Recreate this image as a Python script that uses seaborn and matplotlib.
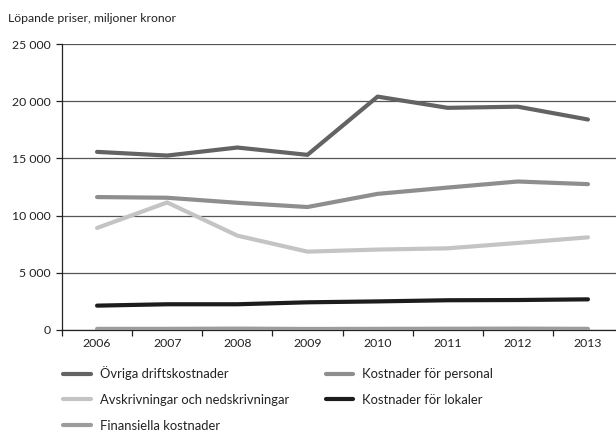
import matplotlib
matplotlib.use("Agg")
import matplotlib.pyplot as plt
import seaborn as sns
import pandas as pd
from matplotlib.ticker import FixedLocator, FuncFormatter
from matplotlib.lines import Line2D

years = [2006, 2007, 2008, 2009, 2010, 2011, 2012, 2013]
ovriga = [15570, 15250, 15950, 15310, 20400, 19420, 19520, 18400]
personal = [11620, 11560, 11120, 10750, 11900, 12450, 12980, 12750]
avskr = [8920, 11150, 8250, 6850, 7030, 7140, 7610, 8100]
lokaler = [2130, 2250, 2250, 2420, 2500, 2600, 2620, 2680]
finans = [100, 100, 120, 90, 100, 110, 120, 100]

series_names = ["Övriga driftskostnader", "Kostnader för personal",
                "Avskrivningar och nedskrivningar", "Kostnader för lokaler",
                "Finansiella kostnader"]
series_vals = [ovriga, personal, avskr, lokaler, finans]
colors = ["#636363", "#8e8e8e", "#c4c4c4", "#1c1c1c", "#9c9c9c"]

rows = []
for name, vals in zip(series_names, series_vals):
    for y, v in zip(years, vals):
        rows.append({"year": y, "value": v, "serie": name})
df = pd.DataFrame(rows)

sns.set_style("white")
plt.rcParams['font.family'] = ['Lato', 'DejaVu Sans']

fig = plt.figure(figsize=(6.16, 4.44), dpi=100)
ax = fig.add_axes([62/616, 1 - 330/444, 1 - 62/616, (330 - 44)/444])

sns.lineplot(data=df, x="year", y="value", hue="serie", hue_order=series_names,
             palette=colors, linewidth=3.0, ax=ax, legend=False, zorder=3)

ax.set_ylim(0, 25000)
ax.set_xlim(2005.5, 2013.4)
ax.yaxis.set_major_locator(FixedLocator([0, 5000, 10000, 15000, 20000, 25000]))
ax.yaxis.set_major_formatter(FuncFormatter(lambda v, p: f"{int(v):,}".replace(",", " ")))
ax.grid(axis="y", color="#555555", linewidth=0.9, zorder=1)
ax.grid(axis="x", visible=False)

ax.xaxis.set_major_locator(FixedLocator([y - 0.5 for y in years]))
ax.xaxis.set_major_formatter(FuncFormatter(lambda v, p: ""))
ax.xaxis.set_minor_locator(FixedLocator(years))
ax.xaxis.set_minor_formatter(FuncFormatter(lambda v, p: str(int(round(v)))))
ax.tick_params(axis="x", which="major", length=4, width=0.9, color="#222222", direction="out", bottom=True)
ax.tick_params(axis="x", which="minor", length=0, labelsize=8.8, pad=6, colors="#222222", bottom=True)
ax.tick_params(axis="y", length=4, width=0.9, color="#222222", direction="out", labelsize=8.8, pad=4, colors="#222222", left=True)

for s in ["top", "right"]:
    ax.spines[s].set_visible(False)
for s in ["left", "bottom"]:
    ax.spines[s].set_color("#222222")
    ax.spines[s].set_linewidth(0.9)
ax.set_xlabel("")
ax.set_ylabel("")

fig.text(8/616, 1 - 18/444, "Löpande priser, miljoner kronor", fontsize=8.8,
         color="#222222", va="center", ha="left")

order = [0, 2, 4, 1, 3]
handles = [Line2D([0], [0], color=colors[i], linewidth=3.0) for i in order]
labels = [series_names[i] for i in order]
fig.legend(handles, labels, ncol=2, loc="upper left",
           bbox_to_anchor=(58/616, 1 - 361/444), frameon=False, fontsize=9.4,
           handlelength=2.1, handletextpad=0.7, columnspacing=2.8,
           labelspacing=1.05, borderaxespad=0, labelcolor="#222222")

fig.savefig("out.png", dpi=100)
